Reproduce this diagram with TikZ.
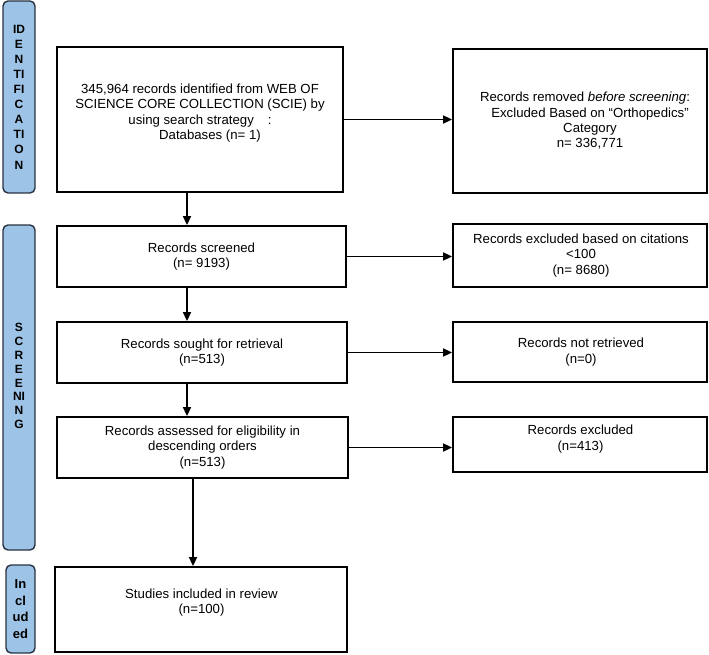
\documentclass[tikz,border=0pt]{standalone}
\usepackage{fontspec}
\setmainfont{Liberation Sans}
\usetikzlibrary{arrows.meta}
\definecolor{barfill}{RGB}{157,195,230}
\definecolor{bardraw}{RGB}{40,50,65}
\tikzset{
  box/.style={draw=black, line width=1.8pt, inner sep=0pt, fill=white},
  txt/.style={align=center, inner sep=0pt, font=\fontsize{13.2}{15.3}\selectfont},
  bar/.style={draw=bardraw, fill=barfill, line width=1.4pt, rounded corners=5pt, inner sep=0pt},
  bartxt/.style={align=center, inner sep=0pt, font=\bfseries\fontsize{12}{15.1}\selectfont},
  arr/.style={line width=1.6pt, -{Triangle[length=9pt,width=8pt]}}
}
\begin{document}
\begin{tikzpicture}[x=1pt,y=-1pt]
\useasboundingbox (0,0) rectangle (709,655);
% side bars
\node[bar, minimum width=32pt, minimum height=192pt] (s1) at (19,97) {};
\node[bartxt] (s1t) at (s1.center) {ID\\E\\N\\TI\\FI\\C\\A\\TI\\O\\N};
\node[bar, minimum width=32pt, minimum height=325pt] (s2) at (19,387.5) {};
\node[bartxt, font=\bfseries\fontsize{12}{13.8}\selectfont] (s2t) at (19,376) {S\\C\\R\\E\\E\\NI\\N\\G};
\node[bar, minimum width=29pt, minimum height=88pt] (s3) at (20.5,609) {};
\node[bartxt, font=\bfseries\fontsize{13}{16.7}\selectfont] (s3t) at (s3.center) {In\\cl\\ud\\ed};
% left column
\node[box, minimum width=286pt, minimum height=145pt] (b1) at (200,119.5) {};
\node[txt] (b1t) at (200,113) {345,964 records identified from WEB OF\\SCIENCE CORE COLLECTION (SCIE) by\\using search strategy\hspace{14pt}:\\\hspace*{20pt}Databases (n= 1)};
\node[box, minimum width=289pt, minimum height=61pt] (b2) at (201.5,256.5) {};
\node[txt] (b2t) at (b2.center) {Records screened\\(n= 9193)};
\node[box, minimum width=290pt, minimum height=61pt] (b3) at (202,352.5) {};
\node[txt] (b3t) at (b3.center) {Records sought for retrieval\\(n=513)};
\node[box, minimum width=291pt, minimum height=61pt] (b4) at (202.5,447.5) {};
\node[txt] (b4t) at (b4.center) {Records assessed for eligibility in\\descending orders\\(n=513)};
\node[box, minimum width=292pt, minimum height=85pt] (b5) at (201,609.5) {};
\node[txt] (b5t) at (201.5,602.5) {Studies included in review\\(n=100)};
% right column
\node[box, minimum width=254pt, minimum height=144pt] (r1) at (580,121) {};
\node[txt] (r1t) at (590,121) {Records removed \textit{before screening}:\hspace*{10pt}\\Excluded Based on “Orthopedics”\\Category\\n= 336,771};
\node[box, minimum width=254pt, minimum height=63pt] (r2) at (580,255.5) {};
\node[txt] (r2t) at (581,255.5) {Records excluded based on citations\\<100\\(n= 8680)};
\node[box, minimum width=254pt, minimum height=60pt] (r3) at (580,352) {};
\node[txt] (r3t) at (581,352) {Records not retrieved\\(n=0)};
\node[box, minimum width=254pt, minimum height=55pt] (r4) at (580,444.5) {};
\node[txt] (r4t) at (580.5,439) {Records excluded\\(n=413)};
% connectors
\coordinate (vx) at (187,0);
\coordinate (vy) at (193,0);
\draw[arr] (b1.east) -- (b1.east -| r1.west);
\draw[arr] (b2.east) -- (b2.east -| r2.west);
\draw[arr] (b3.east) -- (b3.east -| r3.west);
\draw[arr] (b4.east) -- (b4.east -| r4.west);
\draw[arr] (vx |- b1.south) -- (vx |- b2.north);
\draw[arr] (vx |- b2.south) -- (vx |- b3.north);
\draw[arr] (vx |- b3.south) -- (vx |- b4.north);
\draw[arr] (vy |- b4.south) -- (vy |- b5.north);
\end{tikzpicture}
\end{document}
